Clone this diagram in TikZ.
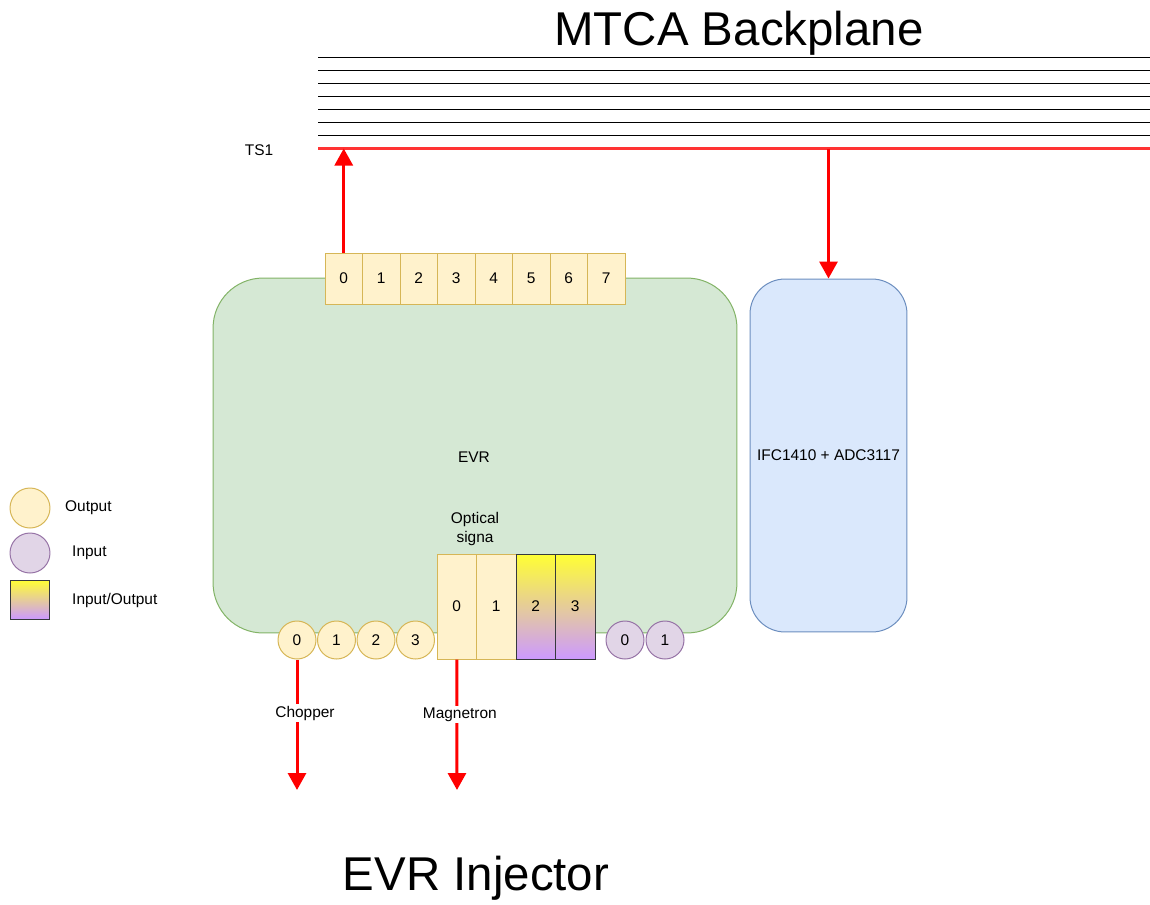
\documentclass[tikz,border=0pt]{standalone}
\usepackage{fontspec}
\setmainfont{Liberation Sans}
\usetikzlibrary{arrows.meta}

\definecolor{evrfill}{HTML}{D5E8D4}
\definecolor{evrdraw}{HTML}{82B366}
\definecolor{ifcfill}{HTML}{DAE8FC}
\definecolor{ifcdraw}{HTML}{6C8EBF}
\definecolor{outfill}{HTML}{FFF2CC}
\definecolor{outdraw}{HTML}{D6B656}
\definecolor{infill}{HTML}{E1D5E7}
\definecolor{indraw}{HTML}{9673A6}
\definecolor{iotop}{HTML}{FFFF33}
\definecolor{iobot}{HTML}{CC99FF}
\definecolor{iodraw}{HTML}{36393D}
\definecolor{sigred}{HTML}{FF0000}
\definecolor{busred}{HTML}{FF3333}

\begin{document}
\begin{tikzpicture}[x=0.02cm, y=-0.02cm,
  font=\fontsize{8.8}{10.5}\selectfont,
  sig/.style={draw=sigred, line width=0.06cm, -{Triangle[length=0.34cm, width=0.36cm]}},
  bus/.style={line width=0.025cm},
  board/.style={rectangle, inner sep=0pt, line width=0.02cm},
  portbox/.style={rectangle, inner sep=0pt, line width=0.02cm, fill=outfill, draw=outdraw},
  outpin/.style={circle, inner sep=0pt, minimum size=0.76cm, line width=0.02cm, fill=outfill, draw=outdraw},
  inpin/.style={circle, inner sep=0pt, minimum size=0.76cm, line width=0.02cm, fill=infill, draw=indraw},
  iobox/.style={rectangle, inner sep=0pt, line width=0.02cm, top color=iotop, bottom color=iobot, draw=iodraw},
  optic/.style={minimum width=0.79cm, minimum height=2.1cm},
  title/.style={font=\fontsize{27}{32}\selectfont, anchor=base}]
\useasboundingbox (0,0) rectangle (1150,904);

% Titulos
\node [title] (mtca) at (739,45) {MTCA Backplane};
\node [title] (inj)  at (476,890) {EVR Injector};

% Backplane
\foreach \y in {57.5,70.5,83.5,96.5,109.5,122.5,135.5}
  \draw [bus] (318,\y) -- (1150,\y);
\coordinate (ts1w) at (318,148.5);
\coordinate (ts1e) at (1150,148.5);
\draw [draw=busred, line width=0.06cm] (ts1w) -- (ts1e);
\node (ts1) at (259,150) {TS1};

% Tarjetas
\node [board, fill=evrfill, draw=evrdraw, rounded corners=1cm,
       minimum width=10.48cm, minimum height=7.1cm] (evr) at (475,455.5) {};
\node (evrlabel) at (474,457) {EVR};
\node [board, fill=ifcfill, draw=ifcdraw, rounded corners=0.7cm,
       minimum width=3.14cm, minimum height=7.06cm] (ifc) at (828.5,455.5) {IFC1410 + ADC3117};

% Puertos backplane
\node [portbox, minimum width=0.75cm, minimum height=1.02cm] (p0) at (343.75,278.5) {0};
\node [portbox, minimum width=0.75cm, minimum height=1.02cm] (p1) at (381.25,278.5) {1};
\node [portbox, minimum width=0.75cm, minimum height=1.02cm] (p2) at (418.75,278.5) {2};
\node [portbox, minimum width=0.75cm, minimum height=1.02cm] (p3) at (456.25,278.5) {3};
\node [portbox, minimum width=0.75cm, minimum height=1.02cm] (p4) at (493.75,278.5) {4};
\node [portbox, minimum width=0.75cm, minimum height=1.02cm] (p5) at (531.25,278.5) {5};
\node [portbox, minimum width=0.75cm, minimum height=1.02cm] (p6) at (568.75,278.5) {6};
\node [portbox, minimum width=0.75cm, minimum height=1.02cm] (p7) at (606.25,278.5) {7};

% Salidas frontales
\node [outpin] (o0) at (297,640) {0};
\node [outpin] (o1) at (336.5,640) {1};
\node [outpin] (o2) at (376,640) {2};
\node [outpin] (o3) at (415.5,640) {3};

% Opticas
\node [portbox, optic] (q0) at (456.75,606.5) {0};
\node [portbox, optic] (q1) at (496.25,606.5) {1};
\node [iobox, optic]   (q2) at (535.75,606.5) {2};
\node [iobox, optic]   (q3) at (575.25,606.5) {3};
\node [align=center] (optlabel) at (475,529) {Optical\\signa};

% Entradas
\node [inpin] (i0) at (625,640) {0};
\node [inpin] (i1) at (665,640) {1};

% Leyenda
\node [outpin, minimum size=0.8cm] (legout) at (30,508) {};
\node [anchor=west] (legoutlabel) at (59,508) {Output};
\node [inpin, minimum size=0.8cm] (legin) at (30,553) {};
\node [anchor=west] (leginlabel) at (66,553) {Input};
\node [iobox, minimum width=0.8cm, minimum height=0.78cm] (legio) at (30,599.5) {};
\node [anchor=west] (legiolabel) at (66,600) {Input/Output};

% Senales
\coordinate (chop) at (297,790);
\coordinate (mag)  at (457,790);
\draw [sig] (p0.north) -- (p0.north |- ts1w);
\draw [sig] (ifc.north |- ts1w) -- (ifc.north);
\draw [sig] (o0.south) -- (chop) node [fill=white, pos=0.41, inner sep=1pt, xshift=0.16cm] {Chopper};
\draw [sig] (q0.south) -- (mag) node [fill=white, pos=0.42, inner sep=1pt, xshift=0.06cm] {Magnetron};
\end{tikzpicture}
\end{document}
